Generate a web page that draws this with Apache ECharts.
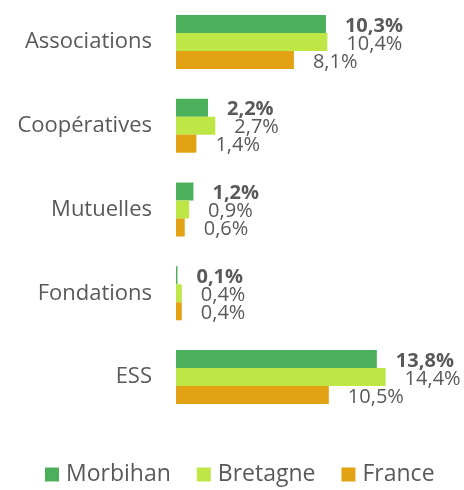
<!DOCTYPE html>
<html>
<head>
<meta charset="utf-8">
<script src="https://cdn.jsdelivr.net/npm/echarts@6/dist/echarts.min.js"></script>
<style>
  html, body { margin: 0; padding: 0; background: #fff; }
  #chart { width: 464px; height: 490px; }
</style>
</head>
<body>
<div id="chart"></div>
<script>
// catégories et valeurs (%)
var categories = ['Associations', 'Coopératives', 'Mutuelles', 'Fondations', 'ESS'];
var morbihan = [10.3, 2.2, 1.2, 0.1, 13.8];
var bretagne = [10.4, 2.7, 0.9, 0.4, 14.4];
var france = [8.1, 1.4, 0.6, 0.4, 10.5];

var fontFamily = '"Open Sans", "Noto Sans", sans-serif';
var textColor = '#595959';

function fmt(p) {
  return p.value.toFixed(1).replace('.', ',') + '%';
}

function serie(name, data, color, bold) {
  return {
    name: name,
    type: 'bar',
    data: data,
    barWidth: 18,
    barGap: '0%',
    itemStyle: { color: color },
    label: {
      show: true,
      position: 'right',
      distance: 19,
      offset: [0, 2],
      formatter: fmt,
      color: textColor,
      fontFamily: fontFamily,
      fontSize: 20,
      fontWeight: bold ? 'bold' : 'normal'
    }
  };
}

var myChart = echarts.init(document.getElementById('chart'));
myChart.setOption({
  animation: false,
  grid: { left: 176, right: 26, top: -1, bottom: 71 },
  xAxis: {
    type: 'value',
    min: 0,
    max: 18,
    show: false
  },
  yAxis: {
    type: 'category',
    data: categories,
    inverse: true,
    axisLine: { show: false },
    axisTick: { show: false },
    axisLabel: {
      margin: 24,
      color: textColor,
      fontFamily: fontFamily,
      fontSize: 22
    }
  },
  legend: {
    bottom: 4,
    left: 45,
    padding: 0,
    itemWidth: 14,
    itemHeight: 14,
    itemGap: 26,
    icon: 'rect',
    textStyle: { color: textColor, fontFamily: fontFamily, fontSize: 23, padding: [0, 0, 0, 2] }
  },
  series: [
    serie('Morbihan', morbihan, '#4caf5c', true),
    serie('Bretagne', bretagne, '#bee746', false),
    serie('France', france, '#e3a213', false)
  ]
});
</script>
</body>
</html>
